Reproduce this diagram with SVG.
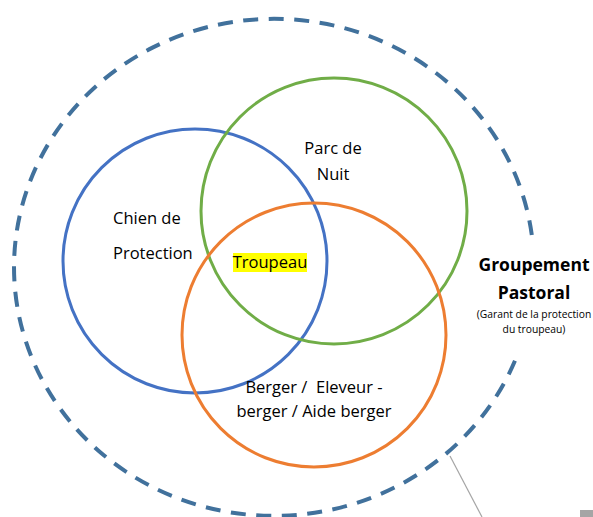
<svg xmlns="http://www.w3.org/2000/svg" width="593" height="517" viewBox="0 0 593 517">
<style>
.t{font-family:"Open Sans","Liberation Sans",sans-serif;font-size:16.5px;fill:#000;text-anchor:middle}
.l{text-anchor:start}
.b{font-weight:bold;font-size:17.5px}
.s{font-size:10.3px}
.c{fill:none;stroke-width:3}
</style>
<rect width="593" height="517" fill="#fff"/>
<g id="groupement">
<path d="M 531.8 235 A 260 248.5 0 1 0 516.1 358" fill="none" stroke="#41719C" stroke-width="4" stroke-dasharray="15 10.5"/>
</g>
<g id="blue"><circle class="c" cx="195" cy="261" r="132" stroke="#4472C4"/></g>
<g id="green"><circle class="c" cx="334" cy="211" r="133" stroke="#70AD47"/></g>
<g id="orange"><circle class="c" cx="314" cy="335" r="132" stroke="#ED7D31"/></g>
<g id="labels">
<text class="t" x="333" y="154">Parc de</text>
<text class="t" x="333" y="180">Nuit</text>
<text class="t l" x="113" y="224">Chien de</text>
<text class="t l" x="113" y="259">Protection</text>
<rect x="233" y="253" width="74" height="19" fill="#FFFF00"/>
<text class="t" x="270" y="268">Troupeau</text>
<text class="t" x="314" y="393" xml:space="preserve">Berger /  Eleveur -</text>
<text class="t" x="314" y="417">berger / Aide berger</text>
<text class="t b" x="534" y="271">Groupement</text>
<text class="t b" x="534" y="299">Pastoral</text>
<text class="t s" x="534" y="318">(Garant de la protection</text>
<text class="t s" x="534" y="333">du troupeau)</text>
</g>
<g id="connectors">
<line x1="450" y1="456" x2="482" y2="517" stroke="#A5A5A5" stroke-width="1.2"/>
</g>
<rect x="580" y="510" width="14" height="8" fill="#A5A5A5"/>
</svg>
